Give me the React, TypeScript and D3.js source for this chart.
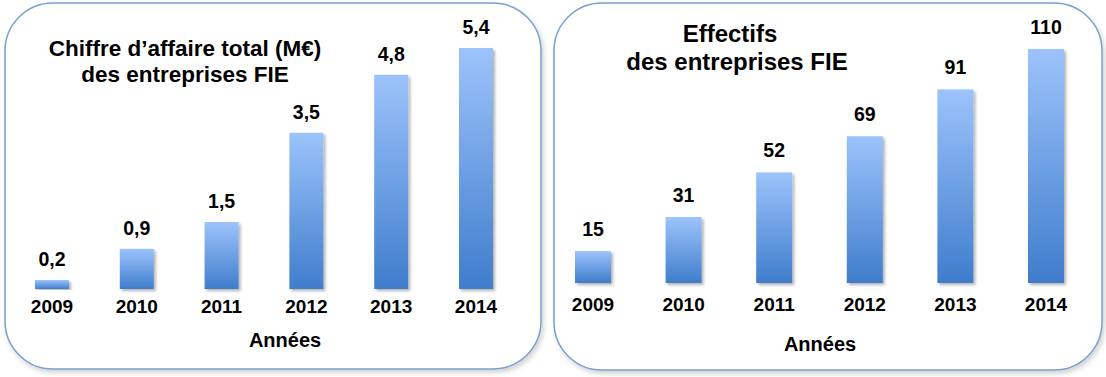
import React from 'react';
import * as d3 from 'd3';

const years = ['2009', '2010', '2011', '2012', '2013', '2014'];
const caValues = [0.2, 0.9, 1.5, 3.5, 4.8, 5.4];
const effValues = [15, 31, 52, 69, 91, 110];
const caTitle = ['Chiffre d’affaire total (M€)', 'des entreprises FIE'];
const effTitle = ['Effectifs', 'des entreprises FIE'];
const axisTitle = 'Années';

const fr = d3.formatLocale({ decimal: ',', thousands: ' ', grouping: [3], currency: ['', ' €'] });
const fmt1 = fr.format('.1f');
const fmt0 = fr.format('d');

const FONT = '"Liberation Sans", Arial, sans-serif';

type PanelProps = {
  px: number; py: number; pw: number; ph: number;
  values: number[]; fmt: (v: number) => string;
  xRange: [number, number]; barW: number;
  yDomainMax: number; yBase: number; yTop: number;
  labelGap: number; yearBaseline: number;
  title: string[]; titleX: number[]; titleY: number[]; titleSize: number;
  axisX: number; axisY: number;
};

function Panel(p: PanelProps) {
  const x = d3.scalePoint<string>().domain(years).range(p.xRange);
  const y = d3.scaleLinear().domain([0, p.yDomainMax]).range([p.yBase, p.yTop]);
  return (
    <g>
      <rect x={p.px} y={p.py} width={p.pw} height={p.ph} rx={48} ry={48}
        fill="#fff" stroke="#7b9fce" strokeWidth={1.5} filter="url(#panelShadow)" />
      {p.title.map((t, i) => (
        <text key={i} x={p.titleX[i]} y={p.titleY[i]} textAnchor="middle"
          fontFamily={FONT} fontWeight="bold" fontSize={p.titleSize} fill="#000">{t}</text>
      ))}
      {p.values.map((v, i) => {
        const cx = x(years[i]) as number;
        return (
          <g key={years[i]}>
            <rect x={cx - p.barW / 2} y={y(v)} width={p.barW} height={p.yBase - y(v)}
              fill="url(#barGrad)" filter="url(#barShadow)" />
            <text x={cx} y={y(v) - p.labelGap} textAnchor="middle" fontFamily={FONT}
              fontWeight="bold" fontSize={19.5} fill="#000">{p.fmt(v)}</text>
            <text x={cx} y={p.yearBaseline} textAnchor="middle" fontFamily={FONT}
              fontWeight="bold" fontSize={19} fill="#000">{years[i]}</text>
          </g>
        );
      })}
      <text x={p.axisX} y={p.axisY} textAnchor="middle" fontFamily={FONT}
        fontWeight="bold" fontSize={20} fill="#000">{axisTitle}</text>
    </g>
  );
}

export default function App() {
  return (
    <svg width={1106} height={377} style={{ position: 'absolute', left: 0, top: 0, background: '#fff' }}>
      <defs>
        <linearGradient id="barGrad" x1="0" y1="0" x2="0" y2="1">
          <stop offset="0%" stopColor="#9cc3fb" />
          <stop offset="100%" stopColor="#3f7dcc" />
        </linearGradient>
        <filter id="barShadow" x="-20%" y="-5%" width="150%" height="115%">
          <feDropShadow dx={2} dy={2} stdDeviation={1.5} floodColor="#000" floodOpacity={0.3} />
        </filter>
        <filter id="panelShadow" x="-5%" y="-5%" width="110%" height="115%">
          <feDropShadow dx={2} dy={3} stdDeviation={2.5} floodColor="#000" floodOpacity={0.18} />
        </filter>
      </defs>
      <Panel px={5} py={3} pw={536} ph={366} values={caValues} fmt={fmt1}
        xRange={[52, 476]} barW={34} yDomainMax={5.4} yBase={289} yTop={48}
        labelGap={14} yearBaseline={313}
        title={caTitle} titleX={[185, 185]} titleY={[56, 82]} titleSize={22.5}
        axisX={285} axisY={347} />
      <Panel px={554} py={3} pw={548} ph={367} values={effValues} fmt={fmt0}
        xRange={[593, 1046]} barW={36} yDomainMax={110} yBase={283} yTop={49}
        labelGap={15} yearBaseline={311}
        title={effTitle} titleX={[730, 737]} titleY={[42, 70]} titleSize={24}
        axisX={820} axisY={351} />
    </svg>
  );
}
